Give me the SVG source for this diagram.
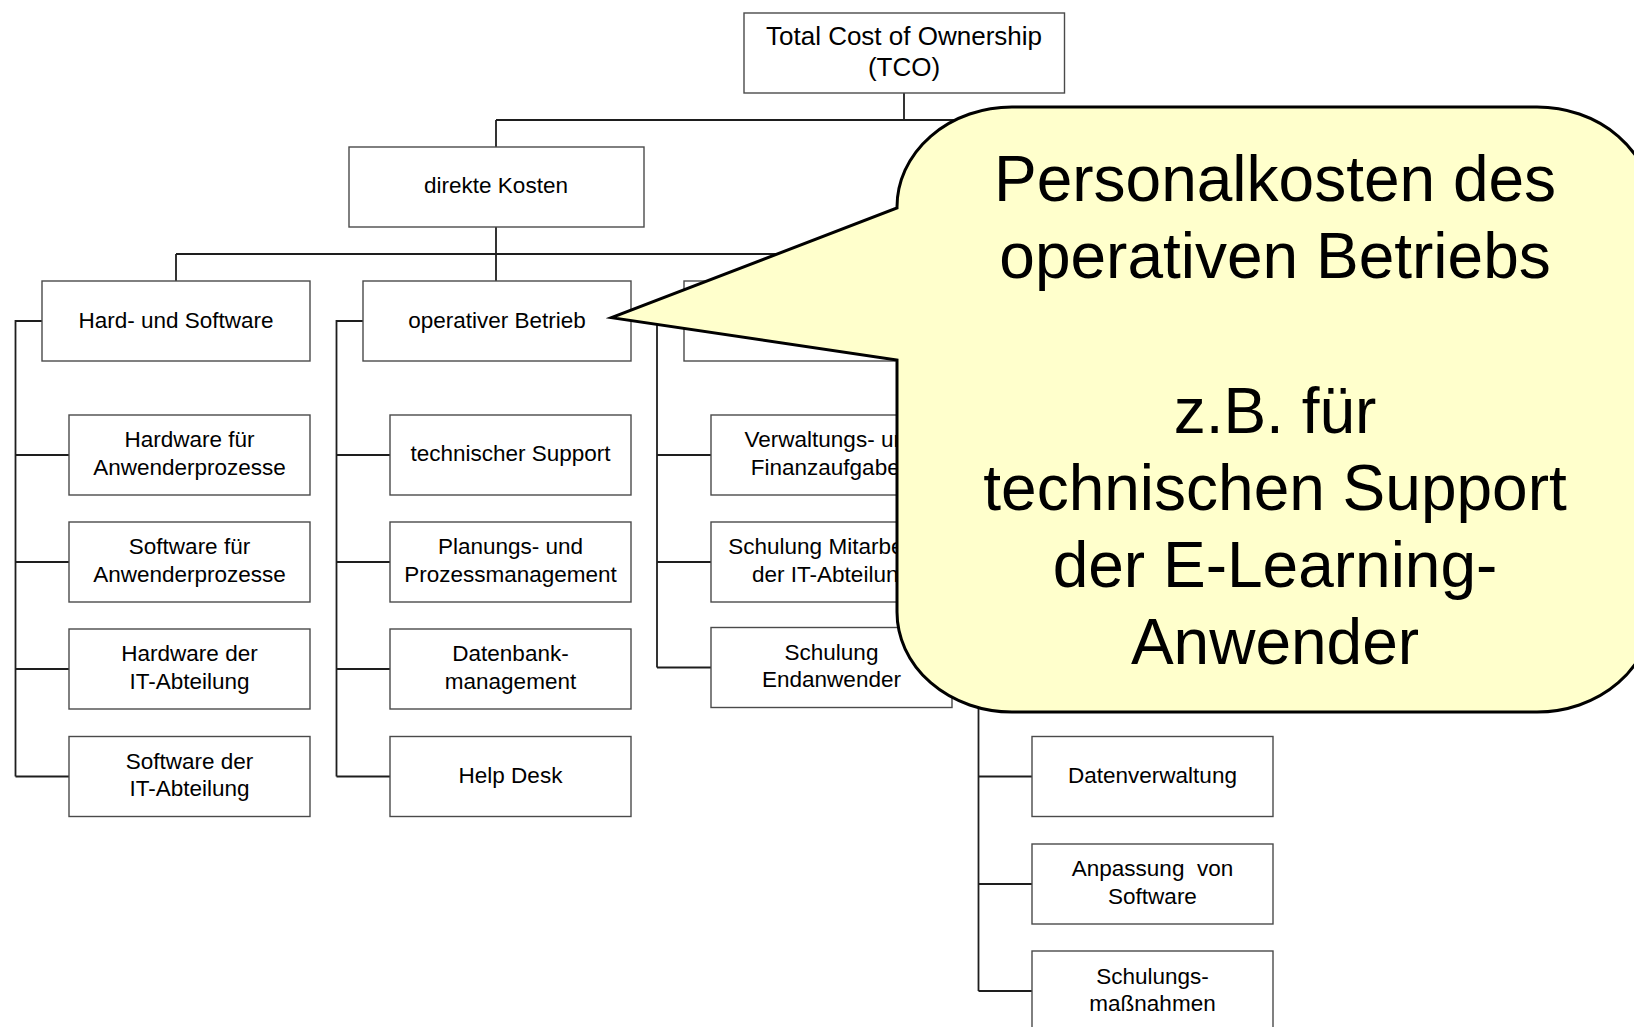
<svg xmlns="http://www.w3.org/2000/svg" width="1634" height="1027" viewBox="0 0 1634 1027">
<style>
  .box { fill: #ffffff; stroke: #4a4a4a; stroke-width: 1.4; }
  .t { font-family: "Liberation Sans", Arial, sans-serif; font-size: 22.5px; fill: #000; text-anchor: middle; }
  .tb { font-family: "Liberation Sans", Arial, sans-serif; font-size: 26px; fill: #000; text-anchor: middle; }
  .con { fill: none; stroke: #1e1e1e; stroke-width: 1.8; }
  .callout { fill: #ffffcc; stroke: #000; stroke-width: 3; stroke-linejoin: miter; }
  .ct { font-family: "Liberation Sans", Arial, sans-serif; font-size: 64px; fill: #000; text-anchor: middle; }
</style>

<g id="connectors">
  <path class="con" d="M904 93 V120 M496 120 H1312 M496 120 V147"/>
  <path class="con" d="M496 227 V281 M176 254 H1139 M176 254 V281 M818 254 V281"/>
  <path class="con" d="M42 321 H15.5 V776.5 M15.5 455 H69 M15.5 562 H69 M15.5 669 H69 M15.5 776.5 H69"/>
  <path class="con" d="M363 321 H336.5 V776.5 M336.5 455 H390 M336.5 562 H390 M336.5 669 H390 M336.5 776.5 H390"/>
  <path class="con" d="M684 321 H657 V667.5 M657 455 H711 M657 562 H711 M657 667.5 H711"/>
  <path class="con" d="M1005 321 H978.5 V991 M978.5 776.5 H1032 M978.5 884 H1032 M978.5 991 H1032"/>
</g>

<g id="n-tco">
  <rect class="box" x="744" y="13" width="320.5" height="80"/>
  <text class="tb" x="904" y="45">Total Cost of Ownership</text>
  <text class="tb" x="904" y="76">(TCO)</text>
</g>
<g id="n-direkt">
  <rect class="box" x="349" y="147" width="295" height="80"/>
  <text class="t" x="496" y="193">direkte Kosten</text>
</g>
<g id="n-hw">
  <rect class="box" x="42" y="281" width="268" height="80"/>
  <text class="t" x="176" y="327.5">Hard- und Software</text>
</g>
<g id="n-op">
  <rect class="box" x="363" y="281" width="268" height="80"/>
  <text class="t" x="497" y="327.5">operativer Betrieb</text>
</g>
<g id="n-l3c">
  <rect class="box" x="684" y="281" width="268" height="80"/>
</g>

<g id="n-hw1">
  <rect class="box" x="69" y="415" width="241" height="80"/>
  <text class="t" x="189.5" y="447">Hardware für</text>
  <text class="t" x="189.5" y="474.5">Anwenderprozesse</text>
</g>
<g id="n-hw2">
  <rect class="box" x="69" y="522" width="241" height="80"/>
  <text class="t" x="189.5" y="554">Software für</text>
  <text class="t" x="189.5" y="581.5">Anwenderprozesse</text>
</g>
<g id="n-hw3">
  <rect class="box" x="69" y="629" width="241" height="80"/>
  <text class="t" x="189.5" y="661">Hardware der</text>
  <text class="t" x="189.5" y="688.5">IT-Abteilung</text>
</g>
<g id="n-hw4">
  <rect class="box" x="69" y="736.5" width="241" height="80"/>
  <text class="t" x="189.5" y="768.5">Software der</text>
  <text class="t" x="189.5" y="796">IT-Abteilung</text>
</g>

<g id="n-op1">
  <rect class="box" x="390" y="415" width="241" height="80"/>
  <text class="t" x="510.5" y="461">technischer Support</text>
</g>
<g id="n-op2">
  <rect class="box" x="390" y="522" width="241" height="80"/>
  <text class="t" x="510.5" y="554">Planungs- und</text>
  <text class="t" x="510.5" y="581.5">Prozessmanagement</text>
</g>
<g id="n-op3">
  <rect class="box" x="390" y="629" width="241" height="80"/>
  <text class="t" x="510.5" y="661">Datenbank-</text>
  <text class="t" x="510.5" y="688.5">management</text>
</g>
<g id="n-op4">
  <rect class="box" x="390" y="736.5" width="241" height="80"/>
  <text class="t" x="510.5" y="782.5">Help Desk</text>
</g>

<g id="n-c1">
  <rect class="box" x="711" y="415" width="241" height="80"/>
  <text class="t" x="831.5" y="447">Verwaltungs- und</text>
  <text class="t" x="831.5" y="474.5">Finanzaufgaben</text>
</g>
<g id="n-c2">
  <rect class="box" x="711" y="522" width="241" height="80"/>
  <text class="t" x="831.5" y="554">Schulung Mitarbeiter</text>
  <text class="t" x="831.5" y="581.5">der IT-Abteilung</text>
</g>
<g id="n-c3">
  <rect class="box" x="711" y="627.5" width="241" height="80"/>
  <text class="t" x="831.5" y="659.5">Schulung</text>
  <text class="t" x="831.5" y="687">Endanwender</text>
</g>

<g id="n-d1">
  <rect class="box" x="1032" y="736.5" width="241" height="80"/>
  <text class="t" x="1152.5" y="782.5">Datenverwaltung</text>
</g>
<g id="n-d2">
  <rect class="box" x="1032" y="844" width="241" height="80"/>
  <text class="t" x="1152.5" y="876">Anpassung&#160; von</text>
  <text class="t" x="1152.5" y="903.5">Software</text>
</g>
<g id="n-d3">
  <rect class="box" x="1032" y="951" width="241" height="80"/>
  <text class="t" x="1152.5" y="983.5">Schulungs-</text>
  <text class="t" x="1152.5" y="1011">maßnahmen</text>
</g>

<g id="callout">
  <path class="callout" d="M897 360 L897 612 A115 100 0 0 0 1012 712 L1537 712 A115 100 0 0 0 1652 612 L1652 207 A115 100 0 0 0 1537 107 L1012 107 A115 100 0 0 0 897 207 L897 208 L611.5 317.7 Z"/>
  <text class="ct" x="1275" y="201">Personalkosten des</text>
  <text class="ct" x="1275" y="278">operativen Betriebs</text>
  <text class="ct" x="1275" y="432.5">z.B. für</text>
  <text class="ct" x="1275" y="510">technischen Support</text>
  <text class="ct" x="1275" y="587">der E-Learning-</text>
  <text class="ct" x="1275" y="664">Anwender</text>
</g>
</svg>
